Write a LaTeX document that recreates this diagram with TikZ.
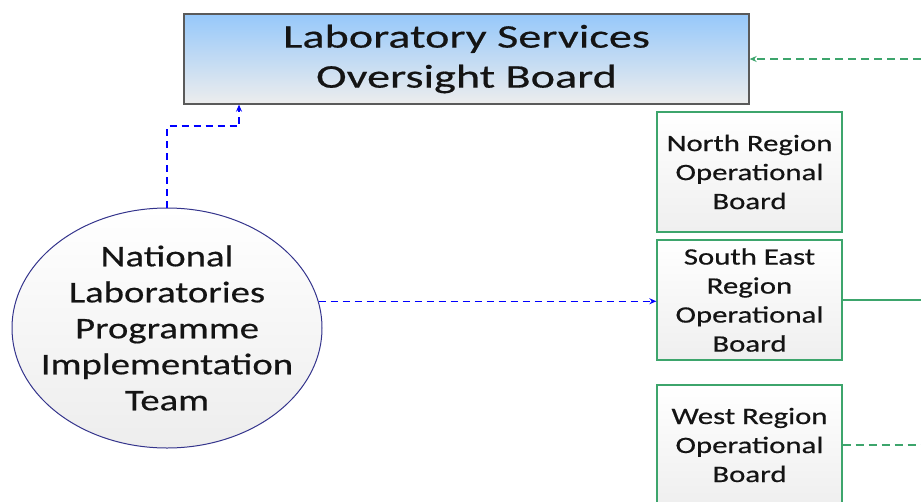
\documentclass[tikz,border=0pt]{standalone}
\usepackage{fontspec}
\setmainfont{Carlito}
\newfontfamily\topfont[FakeStretch=1.40,FakeBold=0.5]{Carlito}
\newfontfamily\regfont[FakeStretch=1.31,FakeBold=0.5]{Carlito}
\newfontfamily\ellfont[FakeStretch=1.29,FakeBold=0.5]{Carlito}
\usetikzlibrary{shapes.geometric,arrows.meta}
\definecolor{bluetop}{HTML}{96C8FA}
\definecolor{graybot}{HTML}{EDEDED}
\definecolor{boxgreen}{HTML}{3DA56C}
\definecolor{ellnavy}{HTML}{34348C}
\definecolor{topedge}{HTML}{5A5A5A}
\definecolor{txt}{HTML}{141414}
\begin{document}
\begin{tikzpicture}[x=1pt,y=-1pt,
  topbox/.style={draw=topedge,line width=1.3pt,top color=bluetop,bottom color=graybot,
    minimum width=565pt,minimum height=90pt,align=center,inner sep=0pt,text=txt,
    font=\topfont\fontsize{33}{40}\selectfont},
  regbox/.style={draw=boxgreen,line width=1.3pt,top color=white,bottom color=graybot!90,
    minimum width=185pt,minimum height=120pt,align=center,inner sep=0pt,text=txt,
    font=\regfont\fontsize{23.5}{29}\selectfont},
  teamell/.style={ellipse,draw=ellnavy,line width=1pt,top color=white,bottom color=graybot,
    minimum width=310pt,minimum height=240pt,inner sep=0pt},
  elltext/.style={align=center,inner sep=0pt,text=txt,
    font=\ellfont\fontsize{30}{36}\selectfont},
  bluedash/.style={draw=blue,line width=1.3pt,dash pattern=on 7pt off 5pt},
  greendash/.style={draw=boxgreen,line width=1.3pt,dash pattern=on 8pt off 5pt},
  greenline/.style={draw=boxgreen,line width=1.3pt},
  tip/.style={-{Stealth[length=7pt,width=6pt]}}
]
\useasboundingbox (0,0) rectangle (921,501);
\node[topbox] (top) at (466.5,59) {Laboratory Services\\Oversight Board};
\node[regbox] (north) at (749.5,172) {North Region\\Operational\\Board};
\node[regbox] (se) at (749.5,300) {South East\\Region\\Operational\\Board};
\node[regbox] (west) at (749.5,445) {West Region\\Operational\\Board};
\node[teamell,label={[elltext]center:National\\Laboratories\\Programme\\Implementation\\Team}] (team) at (167,328) {};
\coordinate (k2) at (239,126);
\coordinate (r1) at (921,59);
\draw[bluedash,tip] (team.north) |- (k2) -- (top.south -| k2);
\draw[bluedash,tip] (team.10) -- (team.10 -| se.west);
\draw[greendash,tip] (r1) -- (top.east);
\draw[greenline] (se.east) -- (se.east -| r1);
\draw[greendash] (west.east) -- (west.east -| r1);
\end{tikzpicture}
\end{document}
